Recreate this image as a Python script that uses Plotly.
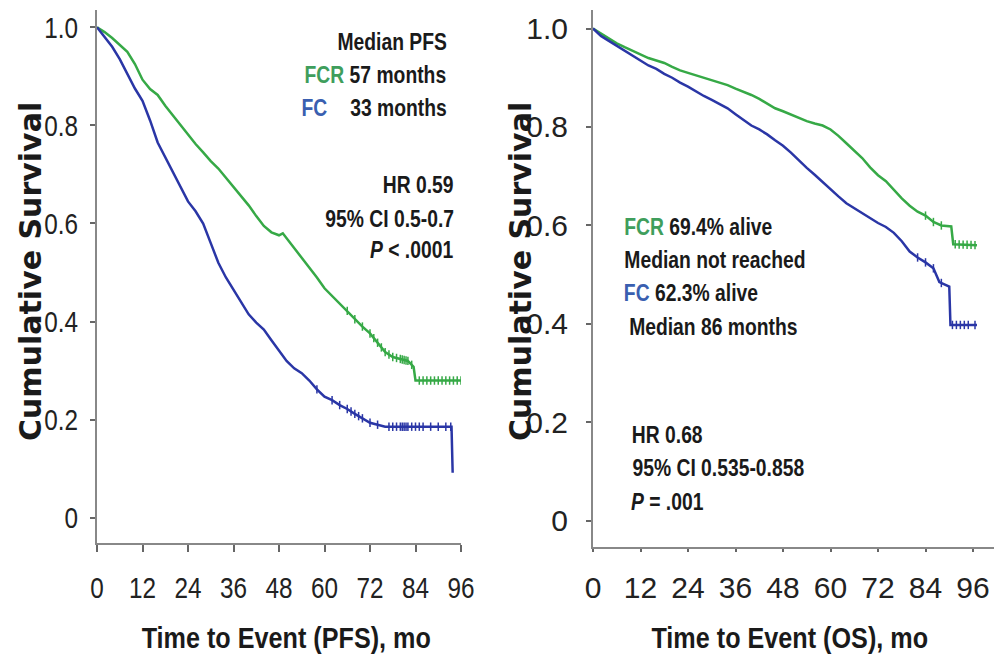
import numpy as np
import plotly.graph_objects as go

W, H = 994, 657

# ---------------- data ----------------
pfs_fcr_t = [0, 2, 4, 6, 8, 10, 12, 14, 16, 18, 20, 22, 24, 26, 28, 30, 32, 34, 36, 38, 40, 42, 44, 46, 48, 49,
             50, 52, 54, 56, 58, 60, 62, 64, 66, 68, 70, 72, 74, 76, 78, 80, 82, 83.5, 84, 96]
pfs_fcr_s = [1.0, 0.99, 0.978, 0.965, 0.95, 0.925, 0.893, 0.874, 0.862, 0.84, 0.82, 0.80, 0.782, 0.762, 0.745, 0.727,
             0.712, 0.693, 0.675, 0.655, 0.637, 0.615, 0.595, 0.582, 0.576, 0.58, 0.57, 0.552, 0.532, 0.51, 0.49,
             0.468, 0.452, 0.437, 0.422, 0.405, 0.39, 0.376, 0.357, 0.338, 0.328, 0.324, 0.32, 0.308, 0.28, 0.28]
pfs_fc_t = [0, 2, 4, 6, 8, 10, 12, 14, 16, 18, 20, 22, 24, 26, 28, 30, 32, 34, 36, 38, 40, 42, 44, 46, 48, 50,
            52, 54, 56, 58, 60, 62, 64, 66, 68, 70, 72, 74, 76, 93.5, 93.8]
pfs_fc_s = [1.0, 0.98, 0.96, 0.935, 0.905, 0.875, 0.85, 0.81, 0.765, 0.735, 0.705, 0.672, 0.645, 0.625, 0.60, 0.56,
            0.52, 0.49, 0.465, 0.44, 0.415, 0.398, 0.384, 0.362, 0.34, 0.32, 0.305, 0.295, 0.28, 0.262, 0.247,
            0.24, 0.23, 0.222, 0.212, 0.203, 0.194, 0.19, 0.186, 0.186, 0.092]
os_fcr_t = [0, 2, 4, 6, 8, 10, 12, 14, 16, 18, 20, 22, 24, 26, 28, 30, 32, 34, 36, 38, 40, 42, 44, 46, 48, 50,
            52, 54, 56, 58, 60, 62, 64, 66, 68, 70, 72, 74, 76, 78, 80, 82, 84, 86, 88, 90.5, 91, 97]
os_fcr_s = [1.0, 0.99, 0.98, 0.97, 0.962, 0.955, 0.948, 0.94, 0.935, 0.93, 0.922, 0.915, 0.91, 0.905, 0.9, 0.895,
            0.89, 0.885, 0.878, 0.872, 0.865, 0.857, 0.847, 0.838, 0.832, 0.825, 0.818, 0.812, 0.807, 0.803, 0.795,
            0.782, 0.767, 0.752, 0.737, 0.718, 0.702, 0.69, 0.672, 0.655, 0.64, 0.628, 0.62, 0.607, 0.6, 0.598,
            0.562, 0.56]
os_fc_t = [0, 2, 4, 6, 8, 10, 12, 14, 16, 18, 20, 22, 24, 26, 28, 30, 32, 34, 36, 38, 40, 42, 44, 46, 48, 50,
           52, 54, 56, 58, 60, 62, 64, 66, 68, 70, 72, 74, 76, 78, 80, 82, 84, 86, 87.5, 90, 90.3, 97]
os_fc_s = [1.0, 0.985, 0.975, 0.965, 0.955, 0.945, 0.935, 0.925, 0.918, 0.908, 0.9, 0.89, 0.882, 0.872, 0.863,
           0.855, 0.847, 0.838, 0.826, 0.814, 0.803, 0.795, 0.785, 0.773, 0.762, 0.748, 0.732, 0.717, 0.703, 0.688,
           0.672, 0.659, 0.645, 0.635, 0.625, 0.615, 0.605, 0.597, 0.585, 0.568, 0.547, 0.535, 0.525, 0.513, 0.485,
           0.476, 0.398, 0.398]

# censor times
pfs_fcr_cens = [66, 68, 70, 72, 73, 74, 75, 76, 77, 78, 79, 80, 80.5, 81, 81.5, 82, 83, 85, 86, 87, 88, 89, 90,
                91, 92, 93, 94, 95, 96]
pfs_fc_cens = [58, 62, 64, 66, 67, 68, 69, 70, 72, 74, 77, 78, 79, 80, 80.5, 81, 81.5, 82, 83, 84, 85, 86, 88,
               90, 92, 93.3]
os_fcr_cens = [84, 86, 88, 91.5, 92.5, 93.5, 94.5, 95.5, 96.5]
os_fc_cens = [82, 84, 86, 88, 90.8, 91.8, 92.8, 93.8, 94.8, 96.5]

x_ticks = [0, 12, 24, 36, 48, 60, 72, 84, 96]
y_ticks = [0, 0.2, 0.4, 0.6, 0.8, 1.0]
y_ticklabels = ["0", "0.2", "0.4", "0.6", "0.8", "1.0"]

GREEN = "#36a946"
BLUE = "#2a36a6"
GREEN_TXT = "#3f9e5c"
BLUE_TXT = "#3a5fb0"

SANS = "Liberation Sans, Arial, sans-serif"
WIDE_BOLD = "DejaVu Sans, Verdana, sans-serif"


def interp_at(ts, ss, t):
    return float(np.interp(t, ts, ss))


fig = go.Figure()


def add_curve(t, s, cens, color, xa, ya):
    fig.add_trace(go.Scatter(x=t, y=s, mode="lines", line=dict(color=color, width=2.5),
                             xaxis=xa, yaxis=ya, showlegend=False, hoverinfo="skip"))
    fig.add_trace(go.Scatter(x=cens, y=[interp_at(t, s, c) for c in cens], mode="markers",
                             marker=dict(symbol="line-ns", size=6, line=dict(color=color, width=1.5)),
                             xaxis=xa, yaxis=ya, showlegend=False, hoverinfo="skip"))


add_curve(pfs_fcr_t, pfs_fcr_s, pfs_fcr_cens, GREEN, "x", "y")
add_curve(pfs_fc_t, pfs_fc_s, pfs_fc_cens, BLUE, "x", "y")
add_curve(os_fcr_t, os_fcr_s, os_fcr_cens, GREEN, "x2", "y2")
add_curve(os_fc_t, os_fc_s, os_fc_cens, BLUE, "x2", "y2")


def px(x):
    return x / W


def py(y):
    return 1 - y / H


tickfont = dict(family=SANS, size=30, color="#222")
axcommon = dict(showgrid=False, zeroline=False, showline=True, linecolor="#888", linewidth=2,
                ticks="outside", tickcolor="#666", tickfont=tickfont, automargin=False)

fig.update_layout(
    width=W, height=H, autosize=False,
    margin=dict(l=0, r=0, t=0, b=0, pad=0, autoexpand=False),
    showlegend=False,
    paper_bgcolor="white", plot_bgcolor="white",
    xaxis=dict(domain=[px(97), px(461)], range=[0, 96], tickvals=x_ticks, ticklen=7, tickwidth=2,
               anchor="y", ticklabelstandoff=10, **axcommon),
    yaxis=dict(domain=[py(543), py(10)], range=[-0.051, 1.035], tickvals=y_ticks, ticktext=y_ticklabels,
               ticklen=5, tickwidth=2, anchor="x", ticklabelstandoff=6, **axcommon),
    xaxis2=dict(domain=[px(593), 1.0], range=[0, 101.3], tickvals=x_ticks, ticklen=3, tickwidth=2,
                anchor="y2", ticklabelstandoff=10, **axcommon),
    yaxis2=dict(domain=[py(547), py(10)], range=[-0.053, 1.0376], tickvals=y_ticks, ticktext=y_ticklabels,
                ticklen=5, tickwidth=2, anchor="x2", ticklabelstandoff=12, **axcommon),
)

ann = []


def text(x, y, s, size=23, family=SANS, angle=0):
    ann.append(dict(x=px(x), y=py(y), xref="paper", yref="paper", text=s, showarrow=False,
                    xanchor="center", yanchor="middle", textangle=angle,
                    font=dict(family=family, size=size, color="#1a1a1a")))


g = lambda s: f"<span style='color:{GREEN_TXT}'>{s}</span>"
b = lambda s: f"<span style='color:{BLUE_TXT}'>{s}</span>"

# left panel texts (centres of the reference texts)
text(392, 42, "<b>Median PFS</b>")
text(375, 75, f"<b>{g('FCR')} 57 months</b>")
text(314.5, 108, f"<b>{b('FC')}</b>")
text(398.5, 108, "<b>33 months</b>")
text(418, 185, "<b>HR 0.59</b>")
text(389, 219, "<b>95% CI 0.5-0.7</b>")
text(411.5, 250, "<b><i>P</i> < .0001</b>")

# right panel texts
text(698, 227, f"<b>{g('FCR')} 69.4% alive</b>")
text(714.5, 260, "<b>Median not reached</b>")
text(690.5, 293, f"<b>{b('FC')} 62.3% alive</b>")
text(713, 327, "<b>Median 86 months</b>")
text(667, 435, "<b>HR 0.68</b>")
text(718.5, 468, "<b>95% CI 0.535-0.858</b>")
text(667, 502, "<b><i>P</i> = .001</b>")

# axis titles
text(286, 637, "<b>Time to Event (PFS), mo</b>", size=30)
text(790, 637, "<b>Time to Event (OS), mo</b>", size=30)
text(30, 272, "<b>Cumulative Survival</b>", size=30, family=WIDE_BOLD, angle=-90)
text(520, 272, "<b>Cumulative Survival</b>", size=30, family=WIDE_BOLD, angle=-90)

fig.update_layout(annotations=ann)

# the source picture uses a condensed face: compress the horizontal texts sideways
squeeze_js = """
document.body.style.margin='0';
function squeeze(sel, k, mode){
  document.querySelectorAll(sel).forEach(function(el){
    if ((el.textContent||'').indexOf('Cumulative') >= 0) return;
    var bb = el.getBBox();
    var cx = (mode === 'right') ? bb.x + bb.width : bb.x + bb.width / 2;
    var t = el.getAttribute('transform') || '';
    el.setAttribute('transform', t + ' translate(' + cx + ',0) scale(' + k + ',1) translate(' + (-cx) + ',0)');
  });
}
squeeze('.xtick text', 0.81, 'center');
squeeze('.ytick text', 0.81, 'right');
squeeze('.annotation-text', 0.84, 'center');
"""

fig.write_html("out.html", config={"responsive": False}, post_script=squeeze_js)
